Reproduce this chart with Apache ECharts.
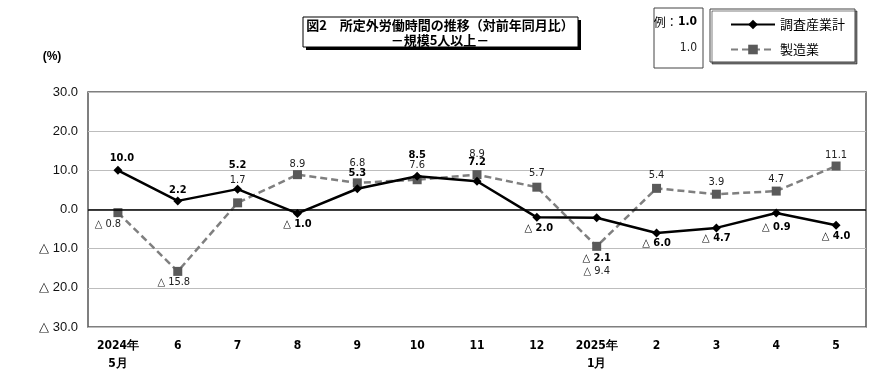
<!DOCTYPE html>
<html><head><meta charset="utf-8">
<script src="https://cdn.jsdelivr.net/npm/echarts@6/dist/echarts.min.js"></script>
<style>html,body{margin:0;padding:0;background:#fff}#c{width:890px;height:381px}</style>
</head><body><div id="c"></div>
<script>
const categories = ['2024年\n5月','6','7','8','9','10','11','12','2025年\n1月','2','3','4','5'];
const totalValues = [10.0, 2.2, 5.2, -1.0, 5.3, 8.5, 7.2, -2.0, -2.1, -6.0, -4.7, -0.9, -4.0];
const mfgValues = [-0.8, -15.8, 1.7, 8.9, 6.8, 7.6, 8.9, 5.7, -9.4, 5.4, 3.9, 4.7, 11.1];
const seriesNames = ['調査産業計', '製造業'];
const yTicks = [-30, -20, -10, 0, 10, 20, 30];

// label placement offsets (pixels from point)
const totalOffsets = [[4,-12],[0,-11],[0,-24],[0,11],[0,-16],[0,-21],[0,-19],[2,11],[0,40],[0,10],[0,10],[0,14],[0,11]];
const mfgOffsets = [[-10,12],[-4,11],[0,-23],[0,-11],[0,-20],[0,-15],[0,-21],[0,-14],[0,25],[0,-13],[0,-12],[0,-12],[0,-11]];

const NARROW = '"DejaVu Sans Condensed", "Liberation Sans Narrow", "Liberation Sans", sans-serif';
const JP = '"Noto Sans CJK JP", sans-serif';
function fmt(v){ return v < 0 ? '△ ' + Math.abs(v).toFixed(1) : v.toFixed(1); }

const chart = echarts.init(document.getElementById('c'));
chart.setOption({
  animation: false,
  backgroundColor: '#fff',
  grid: { left: 88, right: 24, top: 92, bottom: 54, show: true, borderColor: '#555', borderWidth: 1.5, containLabel: false },
  xAxis: {
    type: 'category', data: categories, boundaryGap: true,
    axisLine: { show: false }, axisTick: { show: false },
    axisLabel: { color: '#000', fontFamily: NARROW, fontSize: 12, fontWeight: 'bold', margin: 10, lineHeight: 18, interval: 0 }
  },
  yAxis: {
    type: 'value', min: -30, max: 30, interval: 10,
    axisLine: { show: false }, axisTick: { show: false },
    splitLine: { lineStyle: { color: '#bdbdbd', width: 1 } },
    axisLabel: { color: '#111', fontFamily: '"Liberation Sans", Arial, sans-serif', fontSize: 13, margin: 10,
      formatter: v => yTicks.includes(v) ? (v < 0 ? '△ ' + Math.abs(v).toFixed(1) : v.toFixed(1)) : '' }
  },
  legend: {
    orient: 'vertical', left: 710, top: 9, width: 146, height: 56,
    padding: [9, 10, 6, 20], itemGap: 12, itemWidth: 44, itemHeight: 12,
    borderColor: '#444', borderWidth: 1,
    shadowColor: 'rgba(0,0,0,0.5)', shadowOffsetX: 2, shadowOffsetY: 2, shadowBlur: 0,
    backgroundColor: '#fff',
    textStyle: { color: '#000', fontSize: 13, fontWeight: 'normal', fontFamily: JP },
    data: seriesNames
  },
  graphic: [
    { type: 'rect', shape: { x: 306, y: 20, width: 275, height: 30 }, style: { fill: '#000' }, z: 10 },
    { type: 'rect', shape: { x: 303, y: 17, width: 275, height: 30 }, style: { fill: '#fff', stroke: '#000', lineWidth: 1 }, z: 11 },
    { type: 'text', x: 440, y: 25, z: 12, style: { text: '図2　所定外労働時間の推移（対前年同月比）', fill: '#000', fontSize: 13, fontWeight: 'bold', fontFamily: JP, align: 'center', verticalAlign: 'middle' } },
    { type: 'text', x: 440, y: 40, z: 12, style: { text: '－規模5人以上－', fill: '#000', fontSize: 13, fontWeight: 'bold', fontFamily: JP, align: 'center', verticalAlign: 'middle' } },
    { type: 'rect', shape: { x: 654, y: 8, width: 49, height: 60 }, style: { fill: '#fff', stroke: '#444', lineWidth: 1 }, z: 10 },
    { type: 'text', x: 697, y: 22, z: 12, style: { text: '{a|例：}{b|1.0}', rich: { a: { fontSize: 12, fontFamily: JP, fill: '#000' }, b: { fontSize: 12, fontWeight: 'bold', fontFamily: NARROW, fill: '#000' } }, align: 'right', verticalAlign: 'middle' } },
    { type: 'text', x: 697, y: 48, z: 12, style: { text: '1.0', fill: '#222', fontSize: 12, fontFamily: NARROW, align: 'right', verticalAlign: 'middle' } },
    { type: 'text', x: 52, y: 57, z: 12, style: { text: '(%)', fill: '#000', fontSize: 12, fontWeight: 'bold', fontFamily: '"Liberation Sans", sans-serif', align: 'center', verticalAlign: 'middle' } }
  ],
  series: [
    {
      name: seriesNames[1], type: 'line', z: 3,
      data: mfgValues.map((v, i) => ({ value: v, label: { offset: mfgOffsets[i] } })),
      lineStyle: { color: '#7f7f7f', width: 2.5, type: [7, 4] },
      itemStyle: { color: '#5a5a5a' },
      symbol: 'rect', symbolSize: 9, showAllSymbol: true,
      label: { show: true, position: 'inside', formatter: p => fmt(p.value), color: '#222', fontSize: 11, fontFamily: NARROW }
    },
    {
      name: seriesNames[0], type: 'line', z: 4,
      data: totalValues.map((v, i) => ({ value: v, label: { offset: totalOffsets[i] } })),
      lineStyle: { color: '#000', width: 2.5 },
      itemStyle: { color: '#000' },
      symbol: 'diamond', symbolSize: 9, showAllSymbol: true,
      label: { show: true, position: 'inside', formatter: p => fmt(p.value), color: '#000', fontSize: 11, fontWeight: 'bold', fontFamily: NARROW },
      markLine: { silent: true, symbol: 'none', label: { show: false }, lineStyle: { color: '#000', width: 1.5, type: 'solid' }, data: [{ yAxis: 0 }] }
    }
  ]
});
</script></body></html>
